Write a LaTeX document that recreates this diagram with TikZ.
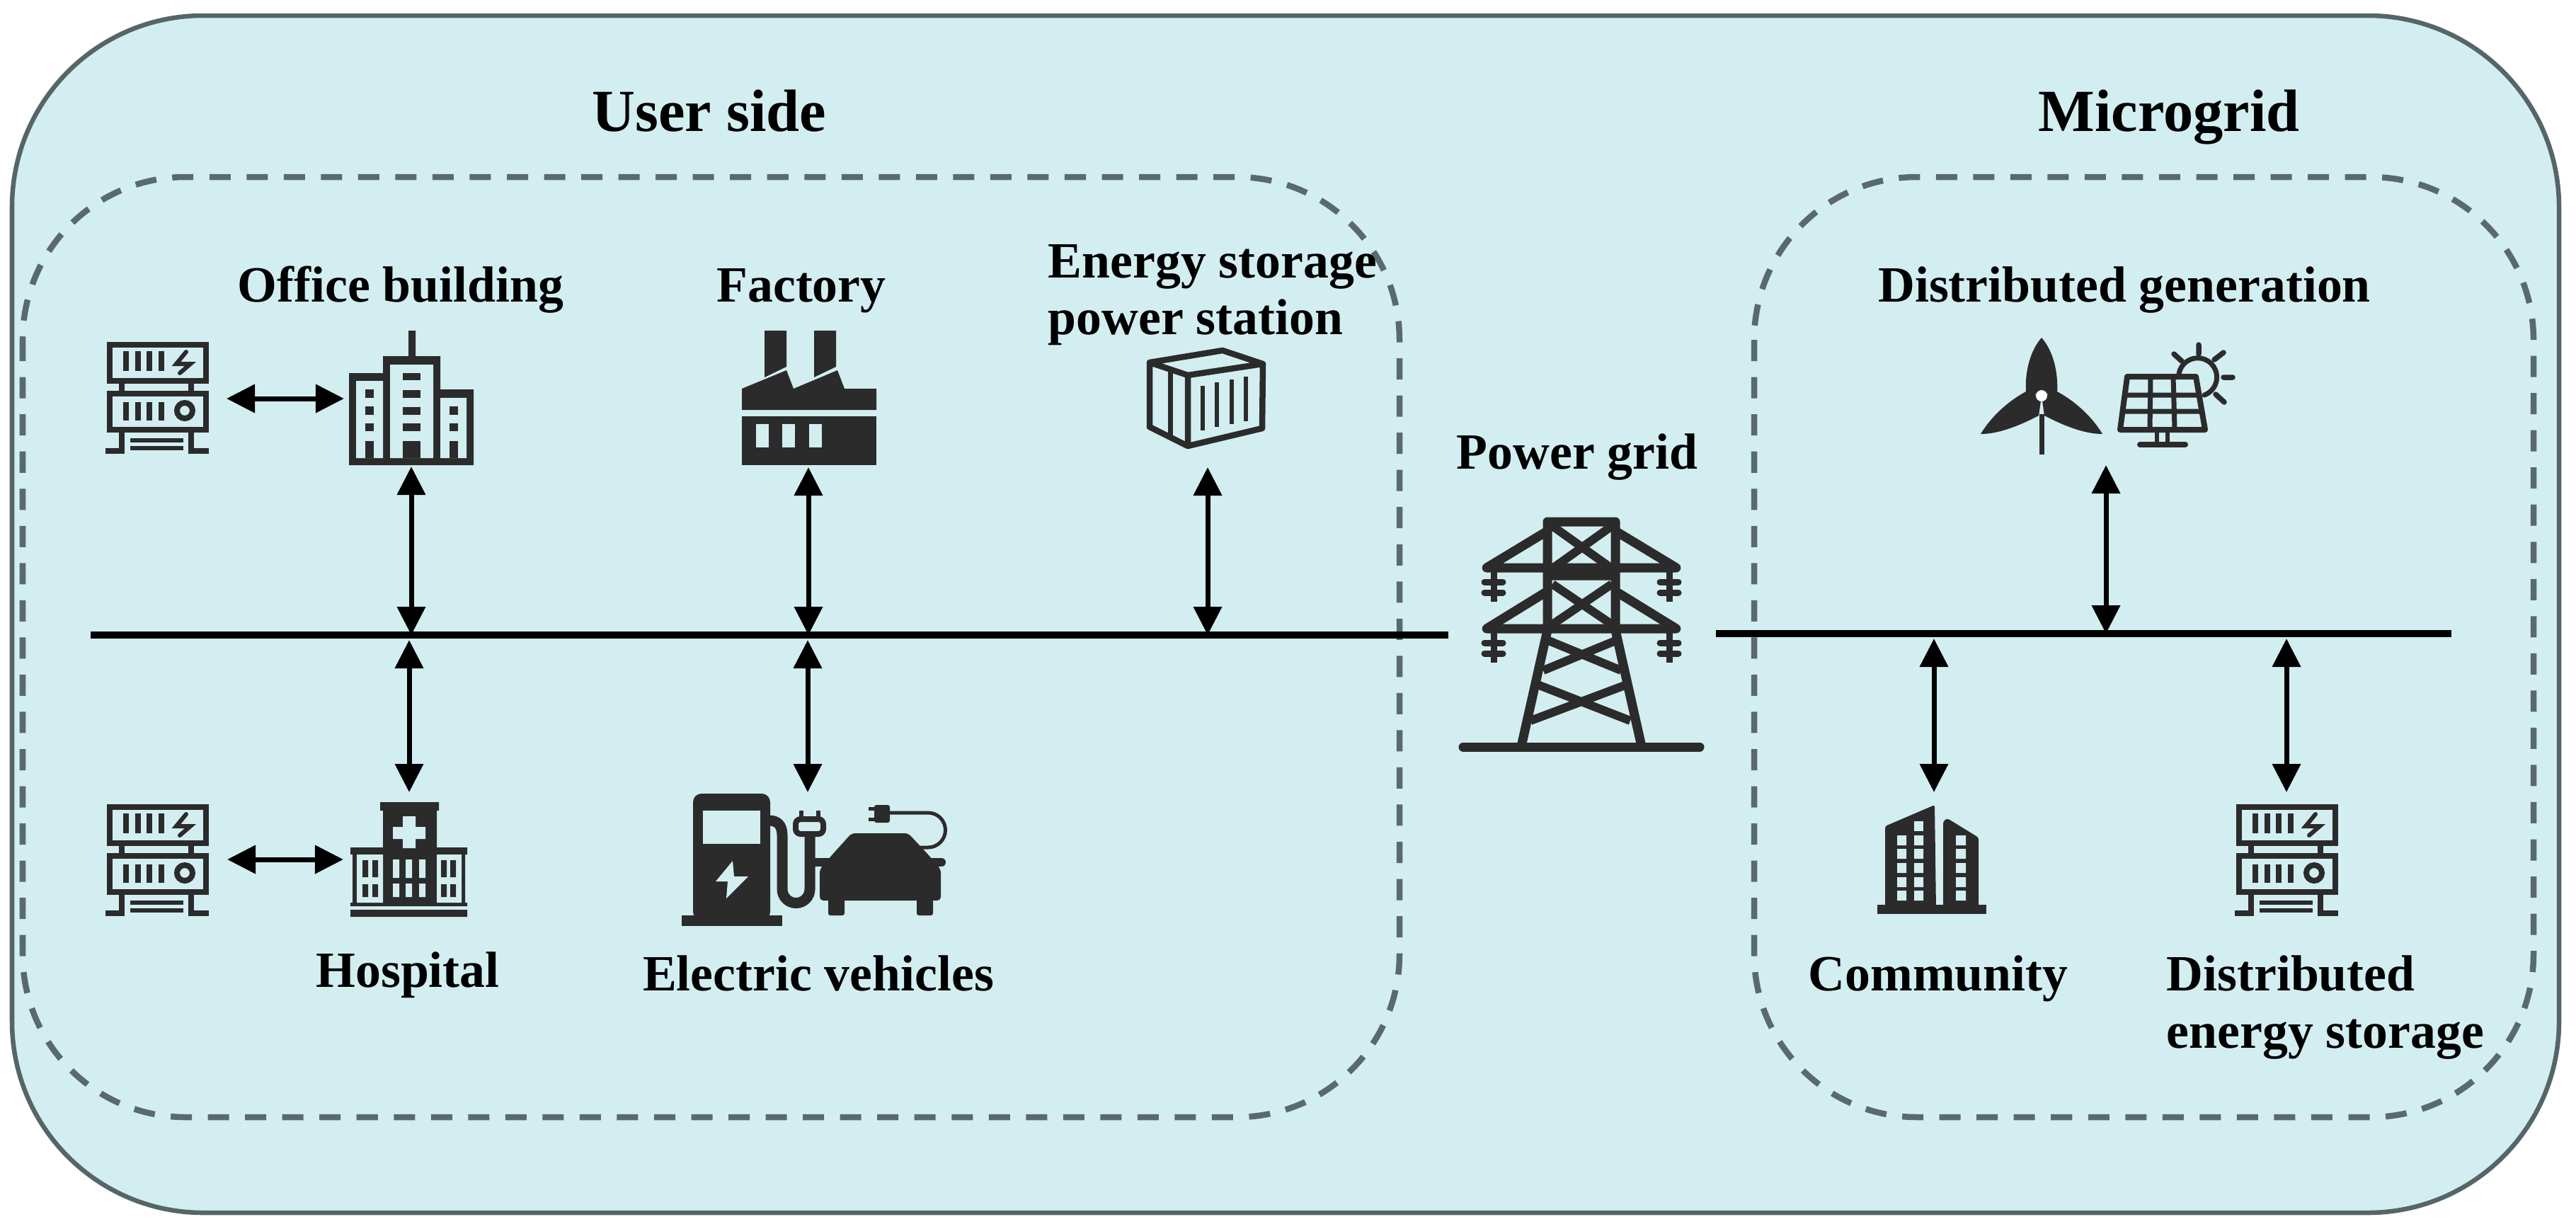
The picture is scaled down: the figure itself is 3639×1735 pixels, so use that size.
\documentclass[tikz,border=0pt]{standalone}
\usepackage{fontspec}
\setmainfont{Liberation Serif}
\usetikzlibrary{arrows.meta}
\definecolor{panelcol}{HTML}{D3EEF1}
\definecolor{rimcol}{HTML}{566668}
\definecolor{dashcol}{HTML}{5A6A6C}
\definecolor{iconcol}{HTML}{2B2B2B}
\tikzset{
  tag/.style={font=\fontsize{20.4}{22.8}\selectfont\bfseries,inner sep=0pt,align=left},
  headtag/.style={font=\fontsize{24}{26}\selectfont\bfseries,inner sep=0pt},
  zone/.style={draw=dashcol,line width=.085cm,dash pattern=on .3cm off .225cm,rounded corners=2.3cm},
  bus/.style={line width=.1cm},
  dbl/.style={{Triangle[length=.4cm,width=.39cm]}-{Triangle[length=.4cm,width=.39cm]},line width=.07cm},
  ink/.style={fill=iconcol},
  wire/.style={draw=iconcol,line width=.08cm},
  cut/.style={fill=panelcol}
}
\newcommand{\servericon}[2]{
  \begin{scope}[shift={(#1,#2)}]
    \draw[wire] (4,4) rectangle (140,55);
    \draw[wire] (4,73) rectangle (140,124);
    \foreach \x in {21,119} \draw[wire] (\x,55) -- (\x,73) (\x,124) -- (\x,154);
    \draw[wire] (-2,154) -- (25,154) (115,154) -- (144,154);
    \foreach \x in {27,44,60,77} {
      \draw[wire,line width=.075cm] (\x,13) -- (\x,41);
      \draw[wire,line width=.075cm] (\x,85) -- (\x,111);
    }
    \draw[wire,line width=.06cm,line cap=round] (112,14) -- (98,31) -- (118,31) -- (103,44);
    \draw[wire] (110,97) circle[radius=11];
    \draw[wire,line width=.055cm] (33,139) -- (108,139) (33,150) -- (108,150);
  \end{scope}
}
\begin{document}
\begin{tikzpicture}[x=.01cm,y=-.01cm]
  \useasboundingbox (0,0) rectangle (3639,1735);
  \draw[draw=rimcol,line width=.065cm,fill=panelcol,rounded corners=2.7cm] (17,22) rectangle (3615,1713);
  \draw[zone] (32,250) rectangle (1977,1578);
  \draw[zone] (2478,250) rectangle (3579,1578);

  \node[headtag,anchor=base] (userside) at (1002,185) {User side};
  \node[headtag,anchor=base] (microgrid) at (3064,185) {Microgrid};
  \node[tag,anchor=base] (officelabel) at (566,426) {Office building};
  \node[tag,anchor=base] (factorylabel) at (1132,426) {Factory};
  \node[tag,anchor=west] (storagelabel) at (1480,417) {Energy storage\\power station};
  \node[tag,anchor=base] (gridlabel) at (2228,662) {Power grid};
  \node[tag,anchor=base] (hospitallabel) at (576,1394) {Hospital};
  \node[tag,anchor=base] (evlabel) at (1156,1399) {Electric vehicles};
  \node[tag,anchor=base] (dglabel) at (3001,426) {Distributed generation};
  \node[tag,anchor=base] (communitylabel) at (2738,1399) {Community};
  \node[tag,anchor=west] (deslabel) at (3060,1423) {Distributed\\energy storage};

  \coordinate (busa) at (128,897);
  \coordinate (busb) at (2046,897);
  \coordinate (busc) at (2424,895);
  \coordinate (busd) at (3463,895);
  \draw[bus] (busa) -- (busb);
  \draw[bus] (busc) -- (busd);

  \coordinate (officeside) at (486,563);
  \coordinate (serverone) at (320,563);
  \coordinate (hospitalside) at (485,1214);
  \coordinate (servertwo) at (321,1214);
  \coordinate (office) at (581,659);
  \coordinate (officetap) at (581,897);
  \coordinate (factory) at (1142,660);
  \coordinate (factorytap) at (1142,897);
  \coordinate (container) at (1706,660);
  \coordinate (containertap) at (1706,897);
  \coordinate (hospital) at (578,1119);
  \coordinate (hospitaltap) at (578,904);
  \coordinate (charger) at (1141,1119);
  \coordinate (chargertap) at (1141,904);
  \coordinate (generation) at (2975,657);
  \coordinate (generationtap) at (2975,895);
  \coordinate (community) at (2732,1119);
  \coordinate (communitytap) at (2732,902);
  \coordinate (storage) at (3230,1119);
  \coordinate (storagetap) at (3230,902);
  \foreach \a/\b in {serverone/officeside,servertwo/hospitalside,office/officetap,
    factory/factorytap,container/containertap,hospital/hospitaltap,charger/chargertap,
    generation/generationtap,community/communitytap,storage/storagetap}
    \draw[dbl] (\a) -- (\b);

  \servericon{151}{483}
  \servericon{151}{1136}
  \servericon{3159}{1136}

  \fill[ink] (577,467) rectangle (587,503) (541,503) rectangle (622,657)
    (493,527) rectangle (541,657) (622,550) rectangle (669,657);
  \fill[cut] (503,538) rectangle (541,647) (551,515) rectangle (612,647) (622,562) rectangle (659,647);
  \foreach \a/\b in {550/562,574/586,598/609,623/647} \fill[ink] (516,\a) rectangle (528,\b);
  \foreach \a/\b in {527/537,551/562,575/586,598/609,623/647} \fill[ink] (569,\a) rectangle (594,\b);
  \foreach \a/\b in {574/586,598/609,623/647} \fill[ink] (635,\a) rectangle (647,\b);

  \fill[ink] (1080,467) -- (1111,467) -- (1111,518) -- (1080,533) -- cycle;
  \fill[ink] (1150,467) -- (1181,467) -- (1181,518) -- (1150,533) -- cycle;
  \fill[ink] (1048,549) -- (1111,523) -- (1121,549) -- (1183,523) -- (1193,549) -- (1238,549)
    -- (1238,579) -- (1048,579) -- cycle;
  \fill[ink] (1048,588) rectangle (1238,657);
  \foreach \x in {1068,1105,1143} \fill[cut] (\x,599) rectangle ++(18,33);

  \draw[wire,line width=.085cm,line join=round] (1624,512) -- (1727,495) -- (1784,514) -- (1783,605)
    -- (1678,630) -- (1624,603) -- cycle (1624,512) -- (1678,530) -- (1784,514) (1678,530) -- (1678,630);
  \draw[wire,line width=.07cm] (1653,522) -- (1653,617);
  \foreach \x/\a/\b in {1699/545/608,1719/540/603,1740/536/599,1760/532/595}
    \draw[wire,line width=.06cm] (\x,\a) -- (\x,\b);

  \fill[ink,rounded corners=.12cm] (979,1300) -- (979,1121) -- (1088,1121) -- (1088,1300) -- cycle;
  \fill[ink] (963,1293) rectangle (1105,1308);
  \fill[cut] (993,1145) rectangle (1074,1192);
  \fill[cut] (1035,1216) -- (1011,1245) -- (1028,1245) -- (1026,1269) -- (1057,1238) -- (1037,1238) -- cycle;
  \draw[iconcol,line width=.15cm] (1086,1159) .. controls (1098,1159) and (1105,1165) .. (1105,1180)
    -- (1105,1256) arc[start angle=180,end angle=0,radius=19.5] -- (1144,1176);
  \draw[wire,fill=panelcol,rounded corners=.07cm] (1124,1157) rectangle (1163,1178);
  \draw[wire,line width=.055cm] (1132,1145) -- (1132,1156) (1156,1145) -- (1156,1156);
  \draw[iconcol,line width=.12cm] (1150,1218) -- (1180,1218);
  \draw[iconcol,line width=.12cm,line cap=round] (1310,1218) -- (1330,1218);
  \fill[ink,rounded corners=.05cm] (1203,1177) -- (1283,1177) -- (1312,1208) -- (1329,1228) -- (1329,1272)
    -- (1158,1272) -- (1158,1228) -- (1175,1208) -- cycle;
  \fill[ink,rounded corners=.03cm] (1170,1265) rectangle (1193,1293) (1295,1265) rectangle (1318,1293);
  \fill[ink,rounded corners=.03cm] (1235,1137) rectangle (1257,1162);
  \draw[wire,line width=.05cm] (1227,1142) -- (1236,1142) (1227,1157) -- (1236,1157);
  \draw[wire,line width=.05cm] (1257,1148) -- (1311,1148) arc[start angle=-90,end angle=90,radius=24.5] -- (1295,1197);

  \draw[iconcol,line width=.13cm,line cap=round] (2067,1055) -- (2401,1055);
  \draw[iconcol,line width=.13cm,line join=round,line cap=round]
    (2186,737) -- (2282,737)
    (2186,737) -- (2186,890) -- (2150,1050) (2282,737) -- (2282,890) -- (2318,1050)
    (2186,750) -- (2100,802) -- (2368,802) -- (2282,750)
    (2186,835) -- (2100,888) -- (2368,888) -- (2282,835)
    (2186,813) -- (2282,813);
  \draw[iconcol,line width=.12cm] (2193,743) -- (2277,803) (2277,743) -- (2193,803)
    (2193,825) -- (2277,882) (2277,825) -- (2193,882)
    (2183,903) -- (2290,947) (2287,903) -- (2180,947)
    (2172,967) -- (2303,1018) (2298,967) -- (2162,1018);
  \foreach \x in {2110,2358} \foreach \y in {802,888} {
    \draw[iconcol,line width=.09cm] (\x,\y) -- (\x,\y+48);
    \draw[iconcol,line width=.09cm,line cap=round] (\x-13,\y+20) -- (\x+13,\y+20) (\x-13,\y+35) -- (\x+13,\y+35);
  }

  \fill[ink] (2884,477) .. controls (2868,495) and (2860,525) .. (2862,556) -- (2906,556)
    .. controls (2908,525) and (2900,495) .. (2884,477);
  \fill[ink] (2798,613) .. controls (2815,585) and (2840,565) .. (2862,553) -- (2884,559) -- (2880,587)
    .. controls (2855,600) and (2825,613) .. (2798,613);
  \fill[ink] (2970,613) .. controls (2953,585) and (2928,565) .. (2906,553) -- (2884,559) -- (2888,587)
    .. controls (2913,600) and (2943,613) .. (2970,613);
  \draw[wire,line width=.07cm] (2884,585) -- (2884,642);
  \fill[white] (2884,559) circle[radius=8];

  \draw[wire,line width=.07cm,line cap=round] (3078,528) arc[start angle=-170,end angle=70,radius=27];
  \fill[panelcol] (3008,534) -- (3100,534) -- (3110,605) -- (3000,605) -- cycle;
  \draw[wire,line width=.08cm,line join=round] (3005,532) -- (3102,532) -- (3115,607) -- (2995,607) -- cycle;
  \draw[wire,line width=.07cm] (3002,558) -- (3107,558) (2999,581) -- (3111,581)
    (3038,533) -- (3037,605) (3070,533) -- (3072,605);
  \draw[wire,line width=.06cm] (3047,607) -- (3047,627) (3062,607) -- (3062,627);
  \draw[wire,line width=.08cm,line cap=round] (3023,628) -- (3087,628);
  \draw[wire,line width=.075cm,line cap=round] (3106,487) -- (3106,500) (3128,508) -- (3141,498)
    (3141,533) -- (3154,533) (3130,557) -- (3142,568) (3082,510) -- (3071,500);

  \fill[ink] (537,1133) rectangle (620,1145) (541,1145) rectangle (617,1280)
    (495,1197) rectangle (660,1207) (498,1207) rectangle (657,1280)
    (495,1275) rectangle (660,1280) (495,1285) rectangle (660,1295);
  \fill[cut] (504,1207) rectangle (541,1275) (617,1207) rectangle (652,1275);
  \foreach \x in {512,526,623,636} \fill[ink] (\x,1215) rectangle ++(8,24) (\x,1249) rectangle ++(8,18);
  \foreach \x in {555,573,592} \fill[cut] (\x,1214) rectangle ++(9,26) (\x,1248) rectangle ++(9,19);
  \fill[cut] (569,1153) rectangle (587,1198) (555,1168) rectangle (601,1185);

  \fill[ink] (2652,1278) rectangle (2806,1291);
  \fill[ink,rounded corners=.03cm] (2663,1285) -- (2663,1167) -- (2733,1137) -- (2735,1285) -- cycle;
  \fill[ink,rounded corners=.03cm] (2745,1285) -- (2745,1160) -- (2751,1156) -- (2795,1183) -- (2795,1285) -- cycle;
  \foreach \y in {1180,1199,1219,1239,1258} {
    \fill[cut] (2680,\y) rectangle ++(13,14) (2704,\y) rectangle ++(13,14) (2763,\y) rectangle ++(14,14);
  }
  \fill[cut] (2704,1160) rectangle ++(13,14);
\end{tikzpicture}
\end{document}
